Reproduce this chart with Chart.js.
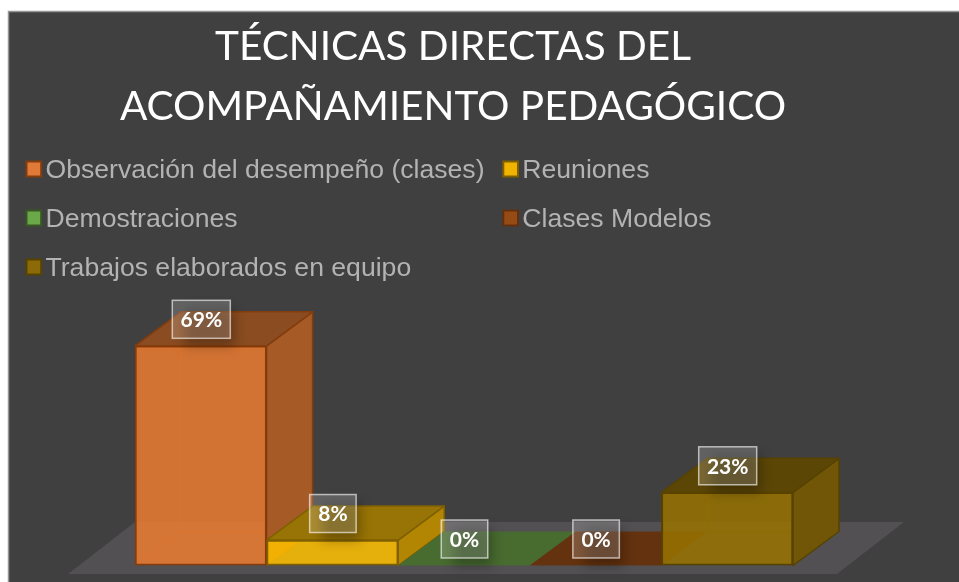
<!DOCTYPE html>
<html><head><meta charset="utf-8">
<script src="https://cdn.jsdelivr.net/npm/chart.js@4"></script>
<style>html,body{margin:0;padding:0;background:#fff}canvas{display:block}</style>
</head><body>
<div style="width:959px;height:582px;position:relative"><canvas id="c" width="959" height="582"></canvas></div>
<script>
const categories = ["Observación del desempeño (clases)", "Reuniones", "Demostraciones", "Clases Modelos", "Trabajos elaborados en equipo"];
const values = [69, 8, 0, 0, 23];
const titleLines = ["TÉCNICAS DIRECTAS DEL", "ACOMPAÑAMIENTO PEDAGÓGICO"];
const frontColors = ["rgba(237,125,49,.85)", "rgba(255,192,0,.85)", "rgba(112,173,71,.85)", "rgba(158,72,14,.85)", "rgba(153,115,0,.85)"];
const sideColors = ["#a65a25", "#b28603", "#5a8a3a", "#7c3f14", "#705606"];
const topColors = ["#8a4c20", "#987305", "#486b30", "#64320f", "#5c4606"];
const edgeColors = ["#843c0c", "#7f6000", "#385723", "#63300f", "#574200"];
const swatchColors = ["#df7a38", "#f0b400", "#6aa84a", "#964a14", "#8c6a08"];
const YMAX = 134;
const DX = 46, DY = -34;

function poly(ctx, pts, fill, stroke, lw) {
  ctx.beginPath();
  pts.forEach((p, i) => i ? ctx.lineTo(p[0], p[1]) : ctx.moveTo(p[0], p[1]));
  ctx.closePath();
  if (fill) { ctx.fillStyle = fill; ctx.fill(); }
  if (stroke) { ctx.strokeStyle = stroke; ctx.lineWidth = lw || 2; ctx.stroke(); }
}

const solid3d = {
  id: "solid3d",
  beforeDraw(chart) {
    const ctx = chart.ctx;
    ctx.save();
    ctx.fillStyle = "#404040";
    ctx.fillRect(9, 12, 950, 570);
    ctx.strokeStyle = "#969696";
    ctx.lineWidth = 1.5;
    ctx.beginPath();
    ctx.moveTo(8.5, 582); ctx.lineTo(8.5, 11.5); ctx.lineTo(959, 11.5);
    ctx.stroke();
    ctx.restore();
  },
  afterLayout(chart) {
    // title is centred on the plot frame rather than on the bars, and may be wider than the bars
    chart.titleBlock.left = 0;
    chart.titleBlock.right = 906;
  },
  beforeDatasetsDraw(chart) {
    const ctx = chart.ctx;
    const els = chart.getDatasetMeta(0).data;
    const bl = els[0].x - els[0].width / 2;
    const br = els[4].x + els[4].width / 2;
    const y0 = els[0].base;
    ctx.save();
    poly(ctx, [[bl - 67, y0 + 8.5], [br + 44, y0 + 8.5], [br + 111, y0 - 43.5], [bl, y0 - 43.5]], "#525052");
    ctx.lineJoin = "round";
    els.forEach((el, i) => {
      const l = el.x - el.width / 2, r = el.x + el.width / 2, t = el.y, b = el.base;
      if (b - t > 1) {
        ctx.strokeStyle = edgeColors[i];
        ctx.lineWidth = 1;
        ctx.beginPath();
        ctx.moveTo(l, b); ctx.lineTo(l + DX, b + DY); ctx.lineTo(l + DX, t + DY);
        ctx.moveTo(l + DX, b + DY); ctx.lineTo(r + DX, b + DY);
        ctx.stroke();
        poly(ctx, [[r, b], [r + DX, b + DY], [r + DX, t + DY], [r, t]], sideColors[i], edgeColors[i], 1.5);
      }
      poly(ctx, [[l, t], [r, t], [r + DX, t + DY], [l + DX, t + DY]], topColors[i], b - t > 1 ? edgeColors[i] : null, 1.5);
    });
    ctx.restore();
  },
  afterDatasetsDraw(chart) {
    const ctx = chart.ctx;
    const els = chart.getDatasetMeta(0).data;
    ctx.save();
    els.forEach((el, i) => {
      const txt = values[i] + "%";
      ctx.font = "bold 21px Lato, Carlito, sans-serif";
      const w = i === 0 || i === 4 ? 58 : 46.5, h = 38;
      const cx = el.x + 0.5, cy = el.y - 26.5;
      ctx.save();
      ctx.filter = "blur(6px)";
      ctx.fillStyle = "rgba(0,0,0,.28)";
      ctx.fillRect(cx - w / 2 + 12, cy - h / 2 + 8, w - 8, h);
      ctx.restore();
      ctx.fillStyle = "rgba(255,255,255,.18)";
      ctx.fillRect(cx - w / 2, cy - h / 2, w, h);
      ctx.strokeStyle = "rgba(255,255,255,.62)";
      ctx.lineWidth = 1.5;
      ctx.strokeRect(cx - w / 2, cy - h / 2, w, h);
      ctx.fillStyle = "#ffffff";
      ctx.textAlign = "center";
      ctx.textBaseline = "middle";
      ctx.fillText(txt, cx, cy + 1);
    });
    ctx.restore();
  },
  afterDraw(chart) {
    const ctx = chart.ctx;
    const cols = [26.5, 503.3], rows = [169, 218, 267];
    const order = [[0, 0], [1, 0], [0, 1], [1, 1], [0, 2]];
    ctx.save();
    ctx.font = "26.6px 'Liberation Sans', Arial, sans-serif";
    ctx.textBaseline = "middle";
    ctx.textAlign = "left";
    categories.forEach((name, i) => {
      const x = cols[order[i][0]], y = rows[order[i][1]];
      poly(ctx, [[x, y - 7.5], [x + 14.7, y - 7.5], [x + 14.7, y + 7.5], [x, y + 7.5]], swatchColors[i], edgeColors[i], 2);
      ctx.fillStyle = "#b3b3b3";
      ctx.fillText(name, x + 19, y + 2);
    });
    ctx.restore();
  }
};

new Chart(document.getElementById("c"), {
  type: "bar",
  data: {
    labels: categories,
    datasets: [{
      data: values,
      backgroundColor: frontColors,
      borderColor: edgeColors,
      borderWidth: 2,
      borderSkipped: false,
      barPercentage: 1,
      categoryPercentage: 1
    }]
  },
  options: {
    responsive: false,
    animation: false,
    layout: { padding: { left: 135, right: 166, top: 17, bottom: 16.5 } },
    scales: {
      x: { display: false },
      y: { display: false, min: 0, max: YMAX }
    },
    plugins: {
      legend: { display: false },
      tooltip: { enabled: false },
      title: {
        display: true,
        text: titleLines,
        color: "#ffffff",
        align: "center",
        font: { family: "Lato, Carlito, sans-serif", size: 40.5, weight: "normal", lineHeight: 1.48 },
        padding: { top: 0, bottom: 2 }
      }
    }
  },
  plugins: [solid3d]
});
</script>
</body></html>
